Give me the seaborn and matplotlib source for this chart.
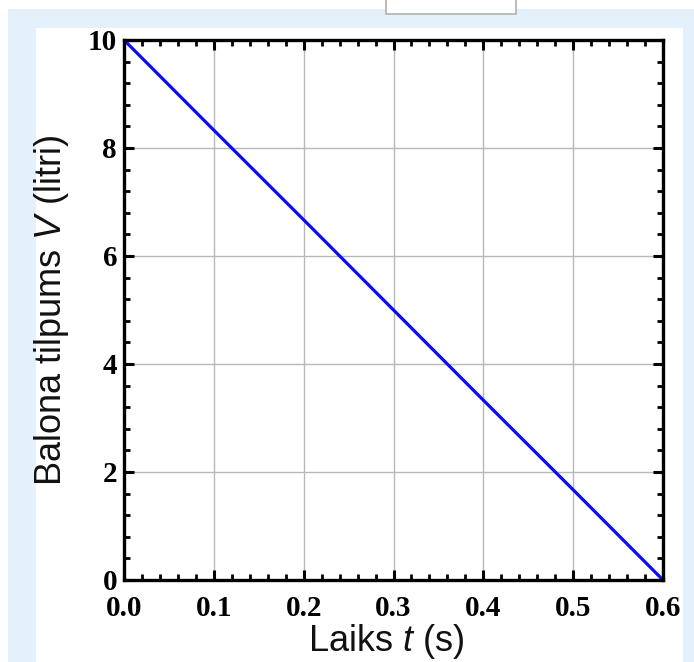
import numpy as np
import pandas as pd
import matplotlib
matplotlib.use("Agg")
import matplotlib.pyplot as plt
from matplotlib.patches import Rectangle
from matplotlib.ticker import MultipleLocator
import seaborn as sns

# data
laiks = [0.0, 0.1, 0.2, 0.3, 0.4, 0.5, 0.6]
tilpums = [10.0, 8.33, 6.67, 5.0, 3.33, 1.67, 0.0]
x_ticks = [0.0, 0.1, 0.2, 0.3, 0.4, 0.5, 0.6]
x_labels = ["0.0", "0.1", "0.2", "0.3", "0.4", "0.5", "0.6"]
y_ticks = [0, 2, 4, 6, 8, 10]

df = pd.DataFrame({"t": laiks, "V": tilpums})

sns.set_style("ticks")
plt.rcParams["font.family"] = ["Liberation Sans", "DejaVu Sans"]
plt.rcParams["mathtext.fontset"] = "custom"
plt.rcParams["mathtext.rm"] = "Liberation Sans"
plt.rcParams["mathtext.it"] = "Liberation Sans:italic"

fig = plt.figure(figsize=(6.94, 6.62), dpi=100)
fig.patch.set_facecolor("white")

# page background: light blue frame, white panel, small box at top
fig.patches.append(Rectangle((8 / 694, 0), 686 / 694, 653 / 662, transform=fig.transFigure,
                             facecolor="#e4f0fa", edgecolor="none", zorder=-10))
fig.patches.append(Rectangle((36 / 694, 0), 647 / 694, 634 / 662, transform=fig.transFigure,
                             facecolor="white", edgecolor="none", zorder=-9))
fig.patches.append(Rectangle((386 / 694, 648 / 662), 130 / 694, 0.05, transform=fig.transFigure,
                             facecolor="white", edgecolor="#b0b0b0", lw=1.2, zorder=-8))

ax = fig.add_axes([124 / 694, 82 / 662, 539 / 694, 540 / 662])
ax.set_zorder(5)
ax.set_facecolor("white")

sns.lineplot(data=df, x="t", y="V", color="#0a0aff", lw=2.3, ax=ax)

ax.set_xlim(0, 0.6)
ax.set_ylim(0, 10)
ax.set_xticks(x_ticks)
ax.set_xticklabels(x_labels)
ax.set_yticks(y_ticks)
ax.xaxis.set_minor_locator(MultipleLocator(0.02))
ax.yaxis.set_minor_locator(MultipleLocator(0.4))

ax.grid(True, which="major", color="#b8b8b8", lw=1.0)
ax.set_axisbelow(True)

for s in ax.spines.values():
    s.set_linewidth(2.4)
    s.set_color("black")

ax.tick_params(which="major", direction="in", length=7, width=2.2,
               top=True, right=True, color="black", labelcolor="black")
ax.tick_params(which="minor", direction="in", length=4, width=2.0,
               top=True, right=True, color="black")
ax.tick_params(axis="x", which="major", pad=11)
ax.tick_params(axis="y", which="major", pad=5)

for lab in ax.get_xticklabels() + ax.get_yticklabels():
    lab.set_fontfamily("Liberation Serif")
    lab.set_fontweight("bold")
    lab.set_fontsize(21)

ax.set_xlabel("Laiks $t$ (s)", fontsize=26, color="#111111")
ax.set_ylabel("Balona tilpums $V$ (litri)", fontsize=26, color="#111111")
ax.xaxis.set_label_coords(0.487, -0.077)
ax.yaxis.set_label_coords(-0.099, 0.5)

fig.savefig("out.png", dpi=100)
